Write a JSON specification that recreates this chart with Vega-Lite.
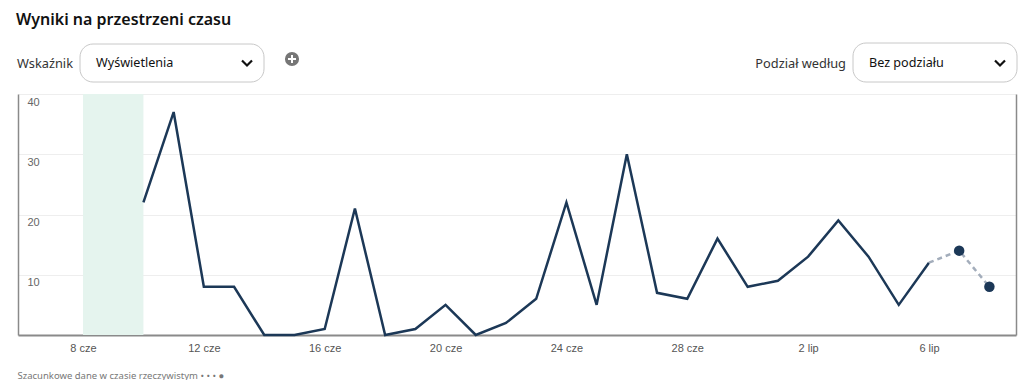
{
  "$schema": "https://vega.github.io/schema/vega-lite/v6.json",
  "background": "white",
  "padding": {"left": 16, "top": 11, "right": 0, "bottom": 0},
  "title": {"text": "Wyniki na przestrzeni czasu", "anchor": "start", "font": "Noto Sans", "fontSize": 16, "fontWeight": 600, "color": "#111111", "offset": 15, "dx": -1},
  "config": {"view": {"stroke": null}, "font": "Noto Sans"},
  "datasets": {
    "views": [
      {"date": "2024-06-10T00:00:00", "views": 22, "estimated": false},
      {"date": "2024-06-11T00:00:00", "views": 37, "estimated": false},
      {"date": "2024-06-12T00:00:00", "views": 8, "estimated": false},
      {"date": "2024-06-13T00:00:00", "views": 8, "estimated": false},
      {"date": "2024-06-14T00:00:00", "views": 0, "estimated": false},
      {"date": "2024-06-15T00:00:00", "views": 0, "estimated": false},
      {"date": "2024-06-16T00:00:00", "views": 1, "estimated": false},
      {"date": "2024-06-17T00:00:00", "views": 21, "estimated": false},
      {"date": "2024-06-18T00:00:00", "views": 0, "estimated": false},
      {"date": "2024-06-19T00:00:00", "views": 1, "estimated": false},
      {"date": "2024-06-20T00:00:00", "views": 5, "estimated": false},
      {"date": "2024-06-21T00:00:00", "views": 0, "estimated": false},
      {"date": "2024-06-22T00:00:00", "views": 2, "estimated": false},
      {"date": "2024-06-23T00:00:00", "views": 6, "estimated": false},
      {"date": "2024-06-24T00:00:00", "views": 22, "estimated": false},
      {"date": "2024-06-25T00:00:00", "views": 5, "estimated": false},
      {"date": "2024-06-26T00:00:00", "views": 30, "estimated": false},
      {"date": "2024-06-27T00:00:00", "views": 7, "estimated": false},
      {"date": "2024-06-28T00:00:00", "views": 6, "estimated": false},
      {"date": "2024-06-29T00:00:00", "views": 16, "estimated": false},
      {"date": "2024-06-30T00:00:00", "views": 8, "estimated": false},
      {"date": "2024-07-01T00:00:00", "views": 9, "estimated": false},
      {"date": "2024-07-02T00:00:00", "views": 13, "estimated": false},
      {"date": "2024-07-03T00:00:00", "views": 19, "estimated": false},
      {"date": "2024-07-04T00:00:00", "views": 13, "estimated": false},
      {"date": "2024-07-05T00:00:00", "views": 5, "estimated": false},
      {"date": "2024-07-06T00:00:00", "views": 12, "estimated": false},
      {"date": "2024-07-07T00:00:00", "views": 14, "estimated": true},
      {"date": "2024-07-08T00:00:00", "views": 8, "estimated": true}
    ]
  },
  "spacing": 11,
  "vconcat": [
    {
      "width": 998,
      "height": 40,
      "data": {"values": [{}]},
      "layer": [
        {
          "mark": {"type": "rect", "fill": "white", "stroke": "#c8c8c8", "strokeWidth": 1, "cornerRadius": 13},
          "encoding": {
            "x": {"datum": 62, "type": "quantitative", "scale": {"domain": [0, 998], "nice": false, "zero": false}, "axis": null},
            "x2": {"datum": 246},
            "y": {"datum": 1, "type": "quantitative", "scale": {"domain": [0, 40], "reverse": true, "nice": false, "zero": false}, "axis": null},
            "y2": {"datum": 39}
          }
        },
        {
          "mark": {"type": "rect", "fill": "white", "stroke": "#c8c8c8", "strokeWidth": 1, "cornerRadius": 13},
          "encoding": {
            "x": {"datum": 835, "type": "quantitative"},
            "x2": {"datum": 999},
            "y": {"datum": 0, "type": "quantitative"},
            "y2": {"datum": 39}
          }
        },
        {
          "mark": {"type": "text", "text": "Wskaźnik", "align": "left", "baseline": "middle", "fontSize": 12.8, "color": "#333333"},
          "encoding": {"x": {"datum": -1, "type": "quantitative"}, "y": {"datum": 21, "type": "quantitative"}}
        },
        {
          "mark": {"type": "text", "text": "Wyświetlenia", "align": "left", "baseline": "middle", "fontSize": 12.6, "color": "#111111"},
          "encoding": {"x": {"datum": 78, "type": "quantitative"}, "y": {"datum": 20, "type": "quantitative"}}
        },
        {
          "mark": {"type": "text", "text": "Podział według", "align": "right", "baseline": "middle", "fontSize": 12.8, "color": "#333333"},
          "encoding": {"x": {"datum": 828, "type": "quantitative"}, "y": {"datum": 21, "type": "quantitative"}}
        },
        {
          "mark": {"type": "text", "text": "Bez podziału", "align": "left", "baseline": "middle", "fontSize": 12.6, "color": "#111111"},
          "encoding": {"x": {"datum": 851, "type": "quantitative"}, "y": {"datum": 20, "type": "quantitative"}}
        },
        {
          "mark": {"type": "point", "shape": "M-1,-0.5L0,0.5L1,-0.5", "filled": false, "stroke": "#111111", "strokeWidth": 2.2, "size": 100, "opacity": 1},
          "encoding": {"x": {"datum": 229, "type": "quantitative"}, "y": {"datum": 20, "type": "quantitative"}}
        },
        {
          "mark": {"type": "point", "shape": "M-1,-0.5L0,0.5L1,-0.5", "filled": false, "stroke": "#111111", "strokeWidth": 2.2, "size": 100, "opacity": 1},
          "encoding": {"x": {"datum": 982, "type": "quantitative"}, "y": {"datum": 20, "type": "quantitative"}}
        },
        {
          "mark": {"type": "point", "shape": "circle", "filled": true, "color": "#767676", "size": 200, "opacity": 1},
          "encoding": {"x": {"datum": 274, "type": "quantitative"}, "y": {"datum": 16, "type": "quantitative"}}
        },
        {
          "mark": {"type": "point", "shape": "M-1,0L1,0M0,-1L0,1", "filled": false, "stroke": "white", "strokeWidth": 2, "size": 64, "opacity": 1},
          "encoding": {"x": {"datum": 274, "type": "quantitative"}, "y": {"datum": 16, "type": "quantitative"}}
        }
      ]
    },
    {
      "width": 998,
      "height": 241,
      "data": {"name": "views"},
      "resolve": {"axis": {"y": "independent"}},
      "layer": [
        {
          "data": {"values": [{}]},
          "mark": {"type": "rect", "color": "#e5f4ee"},
          "encoding": {
            "x": {"datum": {"year": 2024, "month": 6, "date": 8}, "type": "temporal"},
            "x2": {"datum": {"year": 2024, "month": 6, "date": 10}}
          }
        },
        {
          "transform": [{"filter": {"field": "estimated", "equal": false}}],
          "mark": {"type": "line", "color": "#1c3857", "strokeWidth": 2.5, "strokeJoin": "miter"},
          "encoding": {
            "x": {
              "field": "date", "type": "temporal",
              "scale": {"domain": [{"year": 2024, "month": 6, "date": 5, "hours": 20, "minutes": 22}, {"year": 2024, "month": 7, "date": 8, "hours": 21, "minutes": 8}]},
              "axis": {
                "values": [
                  {"year": 2024, "month": 6, "date": 8},
                  {"year": 2024, "month": 6, "date": 12},
                  {"year": 2024, "month": 6, "date": 16},
                  {"year": 2024, "month": 6, "date": 20},
                  {"year": 2024, "month": 6, "date": 24},
                  {"year": 2024, "month": 6, "date": 28},
                  {"year": 2024, "month": 7, "date": 2},
                  {"year": 2024, "month": 7, "date": 6}
                ],
                "labelExpr": "timeFormat(datum.value, '%-d') + (month(datum.value) == 5 ? ' cze' : ' lip')",
                "grid": false,
                "ticks": false,
                "domain": true,
                "domainColor": "#8a8a8a",
                "domainWidth": 2,
                "labelFont": "Liberation Sans",
                "labelFontSize": 11,
                "labelColor": "#555555",
                "labelPadding": 7,
                "title": "Szacunkowe dane w czasie rzeczywistym   • • • ●",
                "titleFont": "Noto Sans",
                "titleFontSize": 9.5,
                "titleFontWeight": "normal",
                "titleColor": "#777777",
                "titleAnchor": "start",
                "titleAlign": "left",
                "titleBaseline": "middle",
                "titleX": -1,
                "titleY": 40
              }
            },
            "y": {
              "field": "views", "type": "quantitative",
              "scale": {"domain": [0, 40], "nice": false},
              "axis": {
                "orient": "left",
                "values": [10, 20, 30, 40],
                "grid": true,
                "gridColor": "#eeeeee",
                "gridWidth": 1,
                "ticks": false,
                "tickSize": 0,
                "domain": true,
                "domainColor": "#8a8a8a",
                "domainWidth": 1.5,
                "labelAlign": "left",
                "labelPadding": -9,
                "labelBaseline": "top",
                "labelOffset": 2,
                "labelFont": "Liberation Sans",
                "labelFontSize": 11,
                "labelColor": "#666666",
                "title": null
              }
            }
          }
        },
        {
          "transform": [{"filter": {"field": "date", "gte": {"year": 2024, "month": 7, "date": 6}}}],
          "mark": {"type": "line", "color": "#a3adbb", "strokeWidth": 2.5, "strokeDash": [5, 4]},
          "encoding": {
            "x": {"field": "date", "type": "temporal"},
            "y": {"field": "views", "type": "quantitative", "axis": null}
          }
        },
        {
          "transform": [{"filter": {"field": "estimated", "equal": true}}],
          "mark": {"type": "point", "filled": true, "color": "#1c3857", "size": 110, "opacity": 1},
          "encoding": {
            "x": {"field": "date", "type": "temporal"},
            "y": {
              "field": "views", "type": "quantitative",
              "axis": {"orient": "right", "labels": false, "ticks": false, "grid": false, "domain": true, "domainColor": "#8a8a8a", "domainWidth": 1.5, "title": null}
            }
          }
        }
      ]
    }
  ]
}
